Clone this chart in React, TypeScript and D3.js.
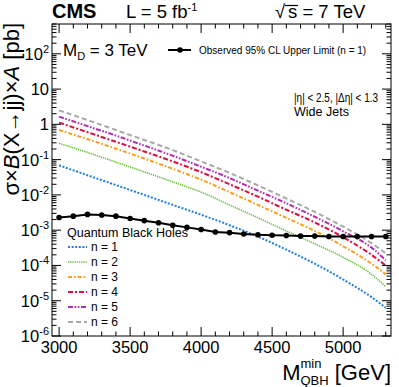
import React from 'react';
import * as d3 from 'd3';

// theory curves (quantum black holes, M_D = 3 TeV)
const masses = [3000, 3200, 3400, 3600, 3800, 4000, 4200, 4400, 4600, 4800, 5000, 5200, 5300];
const qbhN1 = [0.069, 0.036, 0.019, 0.010, 5.2e-3, 2.75e-3, 1.38e-3, 6.6e-4, 2.8e-4, 1.12e-4, 4.0e-5, 1.26e-5, 6.3e-6];
const qbhN2 = [0.29, 0.16, 0.085, 0.045, 0.0234, 0.012, 5.2e-3, 2.24e-3, 9.5e-4, 4.1e-4, 1.7e-4, 5.6e-5, 2.5e-5];
const qbhN3 = [0.69, 0.38, 0.204, 0.107, 0.055, 0.027, 0.012, 5.2e-3, 2.24e-3, 9.5e-4, 3.5e-4, 1.12e-4, 5.6e-5];
const qbhN4 = [1.12, 0.6, 0.32, 0.17, 0.089, 0.044, 0.02, 8.9e-3, 3.8e-3, 1.66e-3, 6.3e-4, 2.0e-4, 1.0e-4];
const qbhN5 = [1.66, 0.89, 0.48, 0.25, 0.129, 0.063, 0.03, 0.0132, 5.8e-3, 2.4e-3, 9.3e-4, 3.2e-4, 1.4e-4];
const qbhN6 = [2.5, 1.32, 0.69, 0.36, 0.186, 0.089, 0.042, 0.0186, 7.9e-3, 3.3e-3, 1.26e-3, 4.3e-4, 2.2e-4];

// observed 95% CL upper limit
const obsMasses = [3000, 3100, 3200, 3300, 3400, 3500, 3600, 3700, 3800, 3900, 4000, 4100,
  4200, 4300, 4400, 4500, 4600, 4700, 4800, 4900, 5000, 5100, 5200, 5300];
const obsLimit = [2.29e-3, 2.5e-3, 2.8e-3, 2.7e-3, 2.5e-3, 2.14e-3, 1.86e-3, 1.62e-3, 1.38e-3, 1.2e-3, 1.05e-3, 8.9e-4,
  8.5e-4, 7.8e-4, 7.4e-4, 7.2e-4, 7.1e-4, 6.8e-4, 6.8e-4, 6.6e-4, 6.6e-4, 6.6e-4, 6.6e-4, 6.6e-4];

const xMajorTicks = [3000, 3500, 4000, 4500, 5000];
const yDecades = [-6, -5, -4, -3, -2, -1, 0, 1, 2];
const seriesNames = ['n = 1', 'n = 2', 'n = 3', 'n = 4', 'n = 5', 'n = 6'];

const W = 399, H = 387;
const m = { left: 52, right: 391, top: 24, bottom: 336 };
const FONT = '"Liberation Sans", Arial, Helvetica, sans-serif';

const styles = [
  { color: '#1f7fe0', dash: '2,1.6', w: 2 },
  { color: '#66c23a', dash: '1.3,0.9', w: 1.6 },
  { color: '#ff9a1a', dash: '4,2,1.6,2', w: 2 },
  { color: '#dc1040', dash: '5,2,2,2', w: 2 },
  { color: '#b02cb0', dash: '5,1.6,1.6,1.6,1.6,1.6', w: 2 },
  { color: '#a8a8a8', dash: '5,3', w: 2 },
];

export default function App() {
  const x = d3.scaleLinear().domain([2950, 5337]).range([m.left, m.right]);
  const y = d3.scaleLog().domain([1e-6, 700]).range([m.bottom, m.top]);

  const theory = [qbhN1, qbhN2, qbhN3, qbhN4, qbhN5, qbhN6];
  const line = d3.line<[number, number]>()
    .x(d => x(d[0]))
    .y(d => y(d[1]))
    .curve(d3.curveMonotoneX);
  const obsLine = d3.line<[number, number]>().x(d => x(d[0])).y(d => y(d[1]));
  const obsPts: [number, number][] = obsMasses.map((mm, i) => [mm, obsLimit[i]]);

  const xMinor = d3.range(3000, 5337, 100).filter(v => !xMajorTicks.includes(v));
  const yMinor: number[] = [];
  yDecades.forEach(d => {
    for (let k = 2; k <= 9; k++) {
      const v = k * Math.pow(10, d);
      if (v <= 700) yMinor.push(v);
    }
  });

  const yLabel = (d: number) => {
    if (d === 0) return <tspan>1</tspan>;
    if (d === 1) return <tspan>10</tspan>;
    return (
      <>
        <tspan>10</tspan>
        <tspan fontSize={11} dy={-7}>{d}</tspan>
      </>
    );
  };

  return (
    <svg width={W} height={H} style={{ position: 'absolute', left: 0, top: 0, background: '#fff' }}
      fontFamily={FONT}>
      <defs>
        <clipPath id="plotArea">
          <rect x={m.left} y={m.top} width={m.right - m.left} height={m.bottom - m.top} />
        </clipPath>
      </defs>

      {/* theory curves */}
      <g clipPath="url(#plotArea)">
        {theory.map((vals, i) => (
          <path key={i}
            d={line(masses.map((mm, j) => [mm, vals[j]] as [number, number])) || ''}
            fill="none" stroke={styles[i].color} strokeWidth={styles[i].w}
            strokeDasharray={styles[i].dash} />
        ))}
        <path d={obsLine(obsPts) || ''} fill="none" stroke="#000" strokeWidth={2} />
        {obsPts.map((p, i) => (
          <circle key={i} cx={x(p[0])} cy={y(p[1])} r={2.8} fill="#000" />
        ))}
      </g>

      {/* frame */}
      <rect x={m.left} y={m.top} width={m.right - m.left} height={m.bottom - m.top}
        fill="none" stroke="#000" strokeWidth={1} />

      {/* x ticks */}
      {xMajorTicks.map(v => (
        <g key={v}>
          <line x1={x(v)} x2={x(v)} y1={m.bottom} y2={m.bottom - 9} stroke="#000" />
          <line x1={x(v)} x2={x(v)} y1={m.top} y2={m.top + 9} stroke="#000" />
          <text x={x(v)} y={353} textAnchor="middle" fontSize={16.5}>{v}</text>
        </g>
      ))}
      {xMinor.map(v => (
        <g key={v}>
          <line x1={x(v)} x2={x(v)} y1={m.bottom} y2={m.bottom - 4.5} stroke="#000" />
          <line x1={x(v)} x2={x(v)} y1={m.top} y2={m.top + 4.5} stroke="#000" />
        </g>
      ))}

      {/* y ticks */}
      {yDecades.map(d => {
        const v = Math.pow(10, d);
        return (
          <g key={d}>
            <line x1={m.left} x2={m.left + 9} y1={y(v)} y2={y(v)} stroke="#000" />
            <line x1={m.right} x2={m.right - 9} y1={y(v)} y2={y(v)} stroke="#000" />
            <text x={49} y={y(v) + 6} textAnchor="end" fontSize={16.5}>{yLabel(d)}</text>
          </g>
        );
      })}
      {yMinor.map(v => (
        <g key={v}>
          <line x1={m.left} x2={m.left + 4.5} y1={y(v)} y2={y(v)} stroke="#000" />
          <line x1={m.right} x2={m.right - 4.5} y1={y(v)} y2={y(v)} stroke="#000" />
        </g>
      ))}

      {/* axis titles */}
      <text transform="translate(19,23) rotate(-90)" textAnchor="end" fontSize={22}>
        σ×<tspan fontStyle="italic">B</tspan>(X→jj)×<tspan fontStyle="italic">A</tspan> [pb]
      </text>
      <text x={391} y={380} textAnchor="end" fontSize={22}>
        M<tspan fontSize={13} dy={-12}>min</tspan><tspan fontSize={13} dx={-21} dy={17}>QBH</tspan>
        <tspan dy={-5}> [GeV]</tspan>
      </text>

      {/* header */}
      <text x={52} y={18} fontSize={20} fontWeight="bold">CMS</text>
      <text x={126} y={18} fontSize={18.5}>L = 5 fb<tspan fontSize={11} dy={-7}>-1</tspan></text>
      <text x={275} y={18} fontSize={18.5}>√</text>
      <line x1={285} x2={298} y1={5.5} y2={5.5} stroke="#000" strokeWidth={1.2} />
      <text x={288} y={18} fontSize={18.5}>s = 7 TeV</text>

      {/* annotations */}
      <text x={63} y={56} fontSize={17}>M<tspan fontSize={11} dy={4}>D</tspan><tspan dy={-4}> = 3 TeV</tspan></text>
      <text x={294} y={102} fontSize={12.5} textLength={84} lengthAdjust="spacingAndGlyphs">|η| &lt; 2.5, |Δη| &lt; 1.3</text>
      <text x={294} y={116} fontSize={12.5}>Wide Jets</text>

      {/* observed legend */}
      <line x1={168} x2={191} y1={50} y2={50} stroke="#000" strokeWidth={2} />
      <circle cx={180} cy={50} r={2.8} fill="#000" />
      <text x={199} y={53.5} fontSize={10}>Observed 95% CL Upper Limit (n = 1)</text>

      {/* theory legend */}
      <text x={67} y={236.5} fontSize={12.5}>Quantum Black Holes</text>
      {seriesNames.map((name, i) => (
        <g key={name}>
          <line x1={68} x2={87} y1={247 + i * 15} y2={247 + i * 15}
            stroke={styles[i].color} strokeWidth={styles[i].w} strokeDasharray={styles[i].dash} />
          <text x={91} y={251 + i * 15} fontSize={12}>{name}</text>
        </g>
      ))}
    </svg>
  );
}
